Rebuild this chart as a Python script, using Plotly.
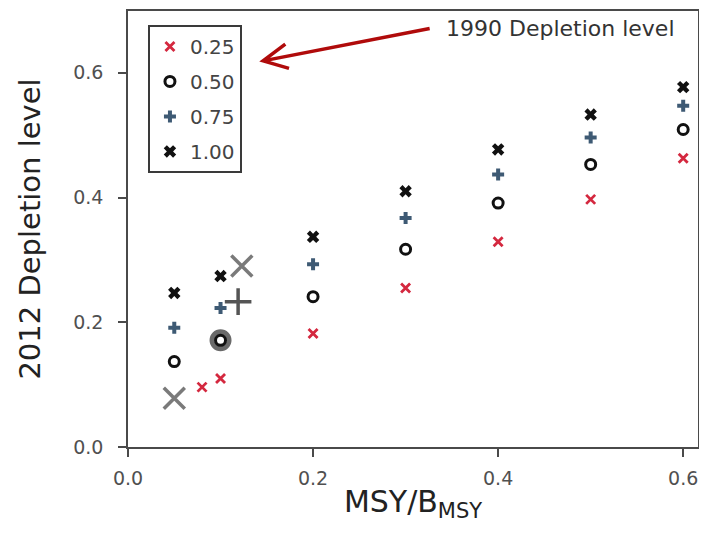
import plotly.graph_objects as go

# Data
x_025 = [0.08, 0.10, 0.20, 0.30, 0.40, 0.50, 0.60]
y_025 = [0.096, 0.110, 0.182, 0.255, 0.329, 0.397, 0.463]

x_main = [0.05, 0.10, 0.20, 0.30, 0.40, 0.50, 0.60]
y_050 = [0.137, 0.171, 0.241, 0.317, 0.391, 0.453, 0.509]
y_075 = [0.191, 0.223, 0.293, 0.367, 0.437, 0.496, 0.547]
y_100 = [0.247, 0.274, 0.337, 0.410, 0.477, 0.533, 0.577]

# Large grey highlighted points
grey_x_x = [0.05, 0.123]
grey_x_y = [0.078, 0.290]
grey_o_x = [0.10]
grey_o_y = [0.171]
grey_p_x = [0.119]
grey_p_y = [0.233]

legend_names = ["0.25", "0.50", "0.75", "1.00"]
tick_vals = [0, 0.2, 0.4, 0.6]

FONT = "DejaVu Sans"

fig = go.Figure()

# grey highlight markers (underneath)
fig.add_trace(go.Scatter(x=grey_o_x, y=grey_o_y, mode="markers", showlegend=False,
                         marker=dict(symbol="circle-open", size=17, color="#6a6a6a",
                                     line=dict(width=5, color="#6a6a6a"))))
fig.add_trace(go.Scatter(x=grey_x_x, y=grey_x_y, mode="markers", showlegend=False,
                         marker=dict(symbol="x-thin-open", size=21, color="#7a7a7a",
                                     line=dict(width=3.5, color="#7a7a7a"))))
fig.add_trace(go.Scatter(x=grey_p_x, y=grey_p_y, mode="markers", showlegend=False,
                         marker=dict(symbol="cross-thin-open", size=19, color="#555555",
                                     line=dict(width=3.5, color="#555555"))))

fig.add_trace(go.Scatter(x=x_025, y=y_025, mode="markers", name=legend_names[0],
                         legendgroup="a",
                         marker=dict(symbol="x-thin-open", size=9, color="#d4283f",
                                     line=dict(width=2.8, color="#d4283f"))))
fig.add_trace(go.Scatter(x=x_main, y=y_050, mode="markers", name=legend_names[1],
                         legendgroup="b",
                         marker=dict(symbol="circle-open", size=10, color="#111111",
                                     line=dict(width=3, color="#111111"))))
fig.add_trace(go.Scatter(x=x_main, y=y_075, mode="markers", name=legend_names[2],
                         legendgroup="c",
                         marker=dict(symbol="cross", size=10, color="#3e5a74",
                                     line=dict(width=0))))
fig.add_trace(go.Scatter(x=x_main, y=y_100, mode="markers", name=legend_names[3],
                         legendgroup="d",
                         marker=dict(symbol="x", size=11, color="#111111",
                                     line=dict(width=0))))

axis_common = dict(
    showline=True, linecolor="#4a4a4a", linewidth=1.6, mirror=True,
    ticks="outside", ticklen=8, tickcolor="#4a4a4a", tickwidth=1.6,
    showgrid=False, zeroline=False, tickformat=".1f",
    tickfont=dict(family=FONT, size=19, color="#505050"),
)

fig.update_xaxes(range=[0, 0.616], tickvals=tick_vals, ticklabelstandoff=5,
                 title=dict(text="MSY/B<sub>MSY</sub>",
                            font=dict(family=FONT, size=30, color="#222222"),
                            standoff=3),
                 **axis_common)
fig.update_yaxes(range=[0, 0.699], tickvals=tick_vals, ticklabelstandoff=11,
                 title=dict(text="2012 Depletion level",
                            font=dict(family=FONT, size=29, color="#222222"),
                            standoff=24),
                 **axis_common)

# Arrow (open V head) drawn as a path in data coordinates
fig.add_shape(type="path",
              path="M 0.326 0.671 L 0.146 0.619 M 0.170 0.646 L 0.146 0.619 L 0.174 0.607",
              xref="x", yref="y", line=dict(color="#b00b0b", width=3.5))

fig.add_annotation(text="1990 Depletion level", xref="paper", yref="paper",
                   x=0.554, y=0.959, xanchor="left", yanchor="middle", showarrow=False,
                   font=dict(family=FONT, size=22, color="#333333"))

fig.update_layout(
    width=699, height=525,
    margin=dict(l=120, r=9, t=1, b=86),
    plot_bgcolor="white", paper_bgcolor="white",
    legend=dict(x=0.035, y=0.968, xanchor="left", yanchor="top",
                bordercolor="#3a3a3a", borderwidth=2, bgcolor="white",
                tracegroupgap=6, itemwidth=30,
                font=dict(family=FONT, size=20, color="#444444")),
)

fig.write_html("out.html")
